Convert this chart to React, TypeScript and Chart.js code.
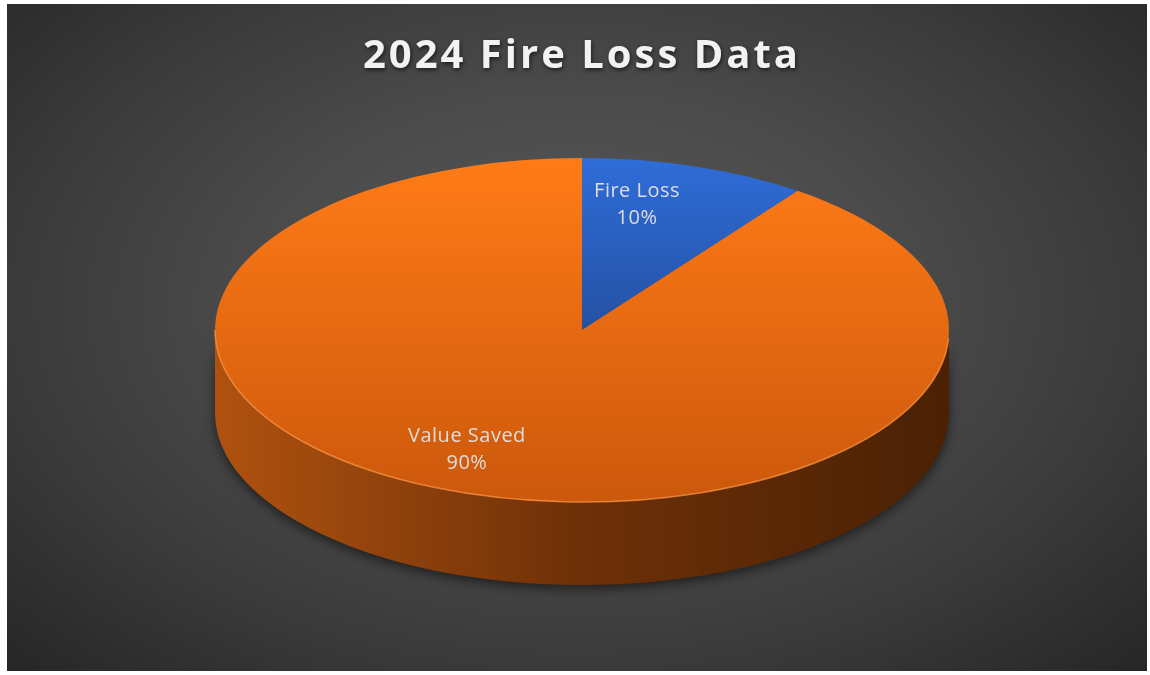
import React, { useEffect, useRef } from 'react';
import { Chart, registerables } from 'chart.js';

Chart.register(...registerables);

// ---- data ----
const titleText = '2024 Fire Loss Data';
const categories = ['Fire Loss', 'Value Saved'];
const values = [10, 90];

// ---- styles ----
const topColors = [
  ['#2F6DD8', '#2451A3'],
  ['#FF7B17', '#CC580C'],
];
const sideColors = [
  ['#2A5BB5', '#16326A'],
  ['#B0520F', '#4A2104'],
];
const W = 1140;
const H = 667;
const CX = 575;
const CY = 326;
const RX = 367;
const RY = 172;
const DEPTH = 83;
const LABEL_R = 0.75;

function pctText(i: number) {
  const total = values.reduce((a, b) => a + b, 0);
  return Math.round((values[i] / total) * 100) + '%';
}

const pie3d = {
  id: 'pie3d',
  beforeDraw(chart: any) {
    const ctx = chart.ctx;
    ctx.save();
    ctx.shadowColor = 'rgba(0,0,0,0.6)';
    ctx.shadowBlur = 4;
    ctx.shadowOffsetX = 1;
    ctx.shadowOffsetY = 2;
    (ctx as any).letterSpacing = '3px';
  },
  beforeDatasetsDraw(chart: any) {
    const ctx = chart.ctx;
    ctx.restore();
    const meta = chart.getDatasetMeta(0);
    // side walls (front half only)
    meta.data.forEach((el: any, i: number) => {
      const p = el.getProps(['startAngle', 'endAngle'], true);
      const a = Math.max(p.startAngle, 0);
      const b = Math.min(p.endAngle, Math.PI);
      if (b <= a) return;
      ctx.save();
      const g = ctx.createLinearGradient(CX - RX, 0, CX + RX, 0);
      g.addColorStop(0, sideColors[i][0]);
      g.addColorStop(0.5, '#6E3008');
      g.addColorStop(1, sideColors[i][1]);
      ctx.fillStyle = g;
      ctx.shadowColor = 'rgba(0,0,0,0.55)';
      ctx.shadowBlur = 12;
      ctx.shadowOffsetY = 4;
      ctx.beginPath();
      ctx.ellipse(CX, CY, RX, RY, 0, a, b, false);
      ctx.ellipse(CX, CY + DEPTH, RX, RY, 0, b, a, true);
      ctx.closePath();
      ctx.fill();
      ctx.restore();
    });
    const first = meta.data[0];
    const q = first.getProps(['x', 'y', 'outerRadius'], true);
    ctx.save();
    ctx.translate(CX, CY);
    ctx.scale(RX / q.outerRadius, RY / q.outerRadius);
    ctx.translate(-q.x, -q.y);
  },
  afterDatasetsDraw(chart: any) {
    const ctx = chart.ctx;
    ctx.restore();
    // rim highlight
    ctx.save();
    ctx.strokeStyle = 'rgba(255,150,70,0.75)';
    ctx.lineWidth = 1.5;
    ctx.beginPath();
    ctx.ellipse(CX, CY, RX, RY, 0, 0.05, Math.PI, false);
    ctx.stroke();
    ctx.restore();
    // labels
    const meta = chart.getDatasetMeta(0);
    ctx.save();
    ctx.font = '20px "Open Sans"';
    (ctx as any).letterSpacing = '0.5px';
    ctx.fillStyle = '#DEDEDE';
    ctx.textAlign = 'center';
    ctx.textBaseline = 'middle';
    meta.data.forEach((el: any, i: number) => {
      const p = el.getProps(['startAngle', 'endAngle'], true);
      const mid = (p.startAngle + p.endAngle) / 2;
      const px = CX + RX * LABEL_R * Math.cos(mid) - 30;
      const py = CY + RY * LABEL_R * Math.sin(mid) - 3;
      ctx.fillText(chart.data.labels[i], px, py - 13);
      ctx.fillText(pctText(i), px, py + 14);
    });
    ctx.restore();
  },
};

export default function App() {
  const ref = useRef<HTMLCanvasElement | null>(null);
  useEffect(() => {
    if (!ref.current) return;
    const chart = new Chart(ref.current, {
      type: 'pie',
      data: {
        labels: categories,
        datasets: [
          {
            data: values,
            borderWidth: 0,
            clip: false as any,
            backgroundColor: (c: any) => {
              const i = c.dataIndex ?? 0;
              const chart = c.chart;
              const area = chart.chartArea;
              if (!area) return topColors[i][0];
              const cy = (area.top + area.bottom) / 2;
              const r = Math.min(area.right - area.left, area.bottom - area.top) / 2;
              const y0 = cy - r;
              const y1 = i === 0 ? cy : cy + r;
              const g = chart.ctx.createLinearGradient(0, y0, 0, y1);
              g.addColorStop(0, topColors[i][0]);
              g.addColorStop(1, topColors[i][1]);
              return g;
            },
          },
        ],
      },
      options: {
        responsive: false,
        animation: false,
        events: [],
        layout: { padding: { left: 10 } },
        plugins: {
          legend: { display: false },
          tooltip: { enabled: false },
          title: {
            display: true,
            text: titleText,
            color: '#F2F2F2',
            font: { family: '"Open Sans"', size: 40, weight: 'bold' },
            padding: { top: 29, bottom: 10 },
          },
        },
      },
      plugins: [pie3d],
    });
    return () => chart.destroy();
  }, []);
  return (
    <div
      style={{
        position: 'absolute',
        left: 7,
        top: 4,
        width: W,
        height: H,
        background:
          'radial-gradient(ellipse farthest-corner at 50% 45%, #595959 0%, #4b4b4b 40%, #3a3a3a 70%, #262626 100%)',
      }}
    >
      <canvas ref={ref} width={W} height={H} style={{ display: 'block' }} />
    </div>
  );
}
